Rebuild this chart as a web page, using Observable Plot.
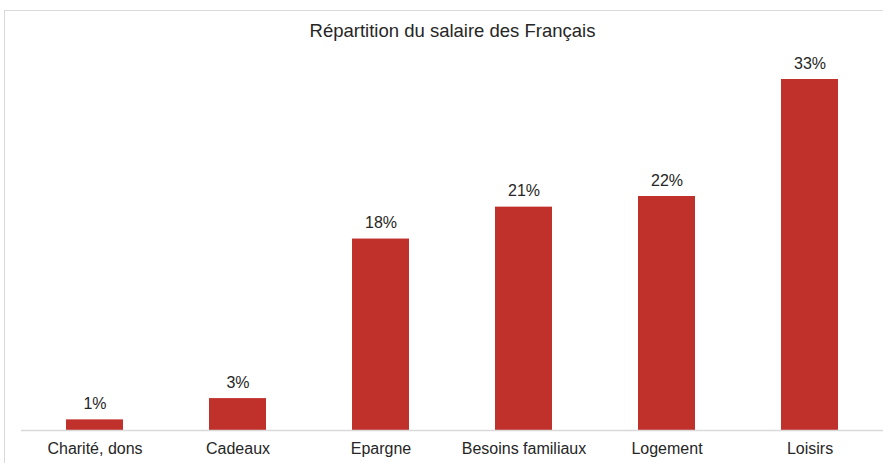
<!DOCTYPE html>
<html><head><meta charset="utf-8">
<script src="https://cdn.jsdelivr.net/npm/d3@7"></script>
<script src="https://cdn.jsdelivr.net/npm/@observablehq/plot@0.6"></script>
<style>
html,body{margin:0;padding:0;background:#fff;}
#wrap{position:relative;width:883px;height:463px;overflow:hidden;}
#frame{position:absolute;left:4px;top:10px;width:900px;height:500px;border:1px solid #d9d9d9;box-sizing:border-box;}
#chart{position:absolute;left:0;top:0;}
</style></head>
<body><div id="wrap"><div id="frame"></div><div id="chart"></div></div>
<script>
const title = "Répartition du salaire des Français";
const categories = ["Charité, dons", "Cadeaux", "Epargne", "Besoins familiaux", "Logement", "Loisirs"];
const values = [1, 3, 18, 21, 22, 33];
const labels = ["1%", "3%", "18%", "21%", "22%", "33%"];

const data = categories.map((c, i) => ({cat: c, v: values[i], label: labels[i]}));

const chart = Plot.plot({
  width: 883, height: 463,
  marginTop: 79, marginBottom: 33, marginLeft: 21, marginRight: 0,
  style: {fontFamily: "'Liberation Sans', Arial, sans-serif", background: "transparent", color: "#262626"},
  x: {domain: categories, paddingInner: 0.6, paddingOuter: 0.3, label: null, tickSize: 0, tickPadding: 12},
  y: {domain: [0, 33], axis: null},
  marks: [
    Plot.barY(data, {x: "cat", y: "v", fill: "#c0312c"}),
    Plot.ruleY([0], {stroke: "#d9d9d9", strokeWidth: 1.5}),
    Plot.text(data, {x: "cat", y: "v", text: "label", dy: -16, fontSize: 16, fill: "#262626"}),
    Plot.text([title], {frameAnchor: "top", lineAnchor: "middle", dy: -48, fontSize: 18.5, fill: "#262626"})
  ]
});
const g = chart.querySelector('[aria-label="x-axis tick label"]');
if (g) { g.setAttribute("font-size", "16"); g.setAttribute("fill", "#262626"); }
document.getElementById("chart").appendChild(chart);
</script>
</body></html>
